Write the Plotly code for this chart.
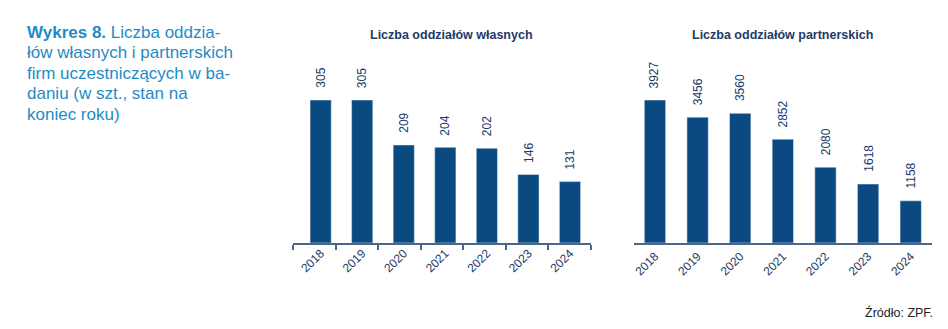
import plotly.graph_objects as go

years = ["2018", "2019", "2020", "2021", "2022", "2023", "2024"]
own_branches = [305, 305, 209, 204, 202, 146, 131]
partner_branches = [3927, 3456, 3560, 2852, 2080, 1618, 1158]

title_own = "Liczba oddziałów własnych"
title_partner = "Liczba oddziałów partnerskich"
source_text = "Źródło: ZPF."
caption_lines = [
    "<b>Wykres 8.</b> Liczba oddzia-",
    "łów własnych i partnerskich",
    "firm uczestniczących w ba-",
    "daniu (w szt., stan na",
    "koniec roku)",
]

W, H = 948, 329
BAR = "#0a4a80"
NAVY = "#1d3a68"
AXIS = "#4a6688"
BLUE = "#1f8bc6"
FONT = "Liberation Sans, Arial, sans-serif"

def px_x(p):
    return p / W

def px_y(p):
    return 1 - p / H

fig = go.Figure()
# invisible trace that carries the left axis line with boundary ticks
fig.add_trace(go.Scatter(x=years, y=[0] * len(years), xaxis="x3", yaxis="y3",
                         mode="markers", marker=dict(size=1, opacity=0),
                         showlegend=False, hoverinfo="skip"))
fig.add_trace(go.Bar(x=years, y=own_branches, marker_color=BAR, width=0.51,
                     xaxis="x", yaxis="y", showlegend=False, hoverinfo="skip"))
fig.add_trace(go.Bar(x=years, y=partner_branches, marker_color=BAR, width=0.5,
                     xaxis="x2", yaxis="y2", showlegend=False, hoverinfo="skip"))

ydom = [px_y(243), px_y(100)]
common_x = dict(type="category", categoryorder="array", categoryarray=years,
                range=[-0.5, len(years) - 0.5],
                showgrid=False, zeroline=False, tickangle=-45,
                tickfont=dict(family=FONT, size=12, color=NAVY), fixedrange=True)
common_y = dict(showgrid=False, zeroline=False, showline=False, showticklabels=False,
                ticks="", domain=ydom, fixedrange=True)

annotations = []
for xa, ya, vals in (("x", "y", own_branches), ("x2", "y2", partner_branches)):
    for i, v in enumerate(vals):
        # category index as x so numeric-looking year names are not misread
        annotations.append(dict(x=i, y=v, xref=xa, yref=ya, text=str(v),
                                textangle=-90, showarrow=False, yanchor="bottom",
                                xanchor="center", yshift=10,
                                font=dict(family=FONT, size=12, color=NAVY)))

annotations.append(dict(x=px_x(450), y=px_y(35), xref="paper", yref="paper",
                        text=title_own, showarrow=False, xanchor="center", yanchor="middle",
                        font=dict(family=FONT, size=12.5, color=NAVY, weight=600)))
annotations.append(dict(x=px_x(782), y=px_y(35), xref="paper", yref="paper",
                        text=title_partner, showarrow=False, xanchor="center", yanchor="middle",
                        font=dict(family=FONT, size=12.5, color=NAVY, weight=600)))
annotations.append(dict(x=px_x(935), y=px_y(312), xref="paper", yref="paper",
                        text=source_text, showarrow=False, xanchor="right", yanchor="middle",
                        font=dict(family=FONT, size=12.5, color="#222222")))

# caption block, one annotation per line
line_centres = [32, 52.5, 73, 93.5, 114]
for txt, yc in zip(caption_lines, line_centres):
    annotations.append(dict(x=px_x(23), y=px_y(yc), xref="paper", yref="paper",
                            text=txt, showarrow=False, align="left",
                            xanchor="left", yanchor="middle",
                            font=dict(family=FONT, size=17, color=BLUE)))

fig.update_layout(
    width=W, height=H,
    margin=dict(l=0, r=0, t=0, b=0),
    paper_bgcolor="white", plot_bgcolor="rgba(0,0,0,0)",
    xaxis=dict(common_x, domain=[px_x(298.5), px_x(590)], anchor="y",
               showline=False, ticks=""),
    yaxis=dict(common_y, range=[0, max(own_branches)], anchor="x"),
    xaxis3=dict(common_x, domain=[px_x(292), px_x(590)], anchor="y3",
                showline=True, linecolor=AXIS, linewidth=1.5,
                showticklabels=True, tickfont=dict(family=FONT, size=12, color="rgba(0,0,0,0)"),
                ticks="outside", tickson="boundaries",
                ticklen=5, tickcolor=AXIS, tickwidth=1.5),
    yaxis3=dict(common_y, range=[0, 1], anchor="x3"),
    xaxis2=dict(common_x, domain=[px_x(633), px_x(932)], anchor="y2", ticks="",
                showline=True, linecolor=AXIS, linewidth=1.5),
    yaxis2=dict(common_y, range=[0, max(partner_branches)], anchor="x2"),
    annotations=annotations,
)

fig.write_html("out.html", config={"displayModeBar": False})
